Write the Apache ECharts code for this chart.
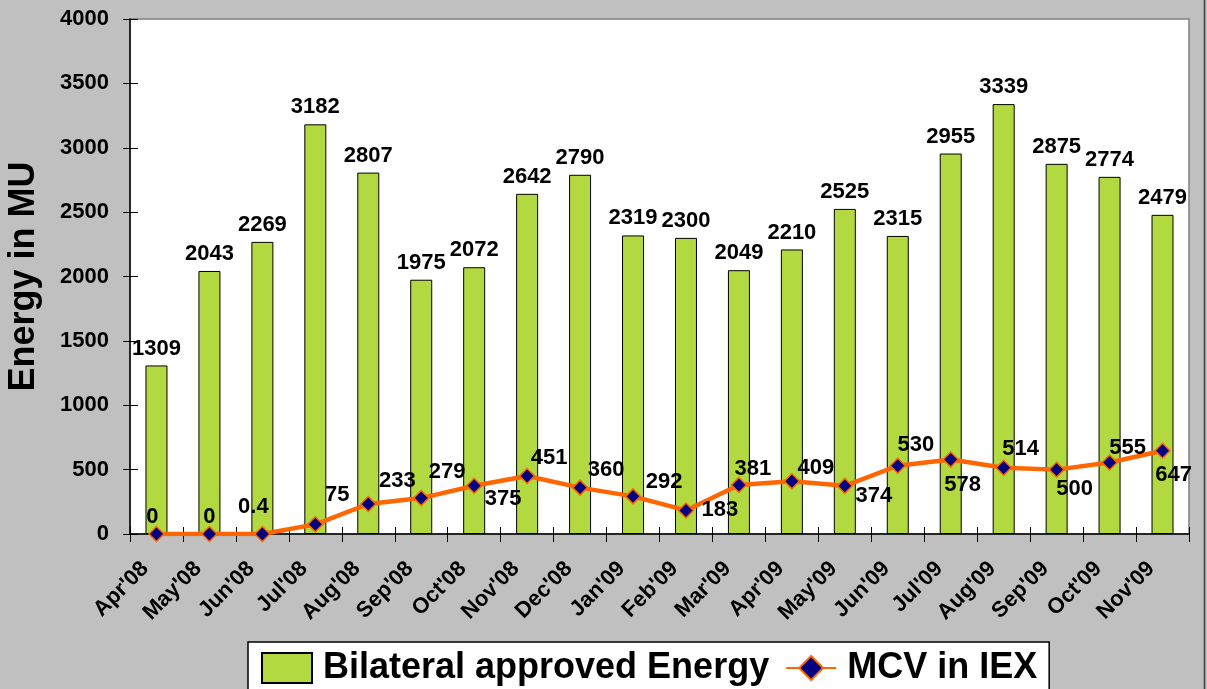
<!DOCTYPE html>
<html>
<head>
<meta charset="utf-8">
<script src="https://cdn.jsdelivr.net/npm/echarts@6/dist/echarts.min.js"></script>
<style>
html,body{margin:0;padding:0;background:#C0C0C0;}
#chart{width:1207px;height:689px;}
</style>
</head>
<body>
<div id="chart"></div>
<script>
const categories = ["Apr'08","May'08","Jun'08","Jul'08","Aug'08","Sep'08","Oct'08","Nov'08","Dec'08","Jan'09","Feb'09","Mar'09","Apr'09","May'09","Jun'09","Jul'09","Aug'09","Sep'09","Oct'09","Nov'09"];
const bilateralEnergy = [1309,2043,2269,3182,2807,1975,2072,2642,2790,2319,2300,2049,2210,2525,2315,2955,3339,2875,2774,2479];
const mcvIEX = [0,0,0.4,75,233,279,375,451,360,292,183,381,409,374,530,578,514,500,555,647];
const yMin = 0, yMax = 4000, yInterval = 500;

// label placement style (pixel offsets from each marker)
const mcvLabelOffsets = [[-4,-17],[0,-17],[-9,-27],[22,-29],[29,-23],[26,-26],[29,13],[22,-18],[26,-18],[31,-14],[34,-1],[14,-16],[24,-13],[29,10],[18,-21],[12,25],[17,-19],[18,19],[18,-15],[11,24]];

const FONT = '"Liberation Sans", Arial, sans-serif';
const chart = echarts.init(document.getElementById('chart'), null, {renderer:'canvas'});

const option = {
  backgroundColor: '#C0C0C0',
  animation: false,
  grid: {left:130, right:18, top:19, bottom:155, outerBoundsMode:'none', containLabel:false,
    show:true, backgroundColor:'#FFFFFF', borderColor:'#808080', borderWidth:1.5},
  legend: {
    left: 248, top: 642,
    backgroundColor:'#FFFFFF', borderColor:'#000000', borderWidth:1.5,
    padding:[8,12,20,13],
    itemWidth: 50, itemHeight: 30, itemGap: 16,
    textStyle:{fontFamily:FONT, fontWeight:'bold', fontSize:36, color:'#000', padding:[0,0,0,6]},
    data:[{name:'Bilateral approved Energy', icon:'rect'},{name:'MCV in IEX'}]
  },
  xAxis: [{
    type:'category', data: categories,
    axisLine:{show:true, lineStyle:{color:'#000', width:1.5}},
    axisTick:{show:true, alignWithLabel:false, length:8, lineStyle:{color:'#000', width:1}},
    axisLabel:{interval:0, rotate:45, margin:20, padding:[0,16,0,0], fontFamily:FONT, fontWeight:'bold', fontSize:22, color:'#000'},
    splitLine:{show:false}
  },{
    type:'category', data: categories, position:'bottom', offset:0,
    axisLine:{show:false},
    axisTick:{show:true, inside:true, length:7, lineStyle:{color:'#000', width:1}},
    axisLabel:{show:false}, splitLine:{show:false}
  }],
  yAxis: [{
    type:'value', min:yMin, max:yMax, interval:yInterval,
    name:'Energy in MU', nameLocation:'middle', nameGap:88, nameRotate:90,
    nameTextStyle:{fontFamily:FONT, fontWeight:'bold', fontSize:36, color:'#000'},
    axisLine:{show:true, lineStyle:{color:'#000', width:1.5}},
    axisTick:{show:true, length:7, lineStyle:{color:'#000', width:1}},
    axisLabel:{margin:21, fontFamily:FONT, fontWeight:'bold', fontSize:22, color:'#000', formatter: v => String(v)},
    splitLine:{show:false}
  },{
    type:'value', min:yMin, max:yMax, interval:yInterval, position:'left', offset:0,
    axisLine:{show:false},
    axisTick:{show:true, inside:true, length:8, lineStyle:{color:'#000', width:1}},
    axisLabel:{show:false}, splitLine:{show:false}
  }],
  series: [{
    name:'Bilateral approved Energy', type:'bar', data: bilateralEnergy,
    barWidth: 22,
    itemStyle:{color:'#B2D940', borderColor:'#000', borderWidth:1},
    label:{show:true, position:'top', distance:6, fontFamily:FONT, fontWeight:'bold', fontSize:22, color:'#000'},
    z:2
  },{
    name:'MCV in IEX', type:'line', data: mcvIEX.map((v,i)=>({
      value:v,
      label:{offset: mcvLabelOffsets[i]}
    })),
    symbol:'diamond', symbolSize:15,
    lineStyle:{color:'#FF6600', width:4.5},
    itemStyle:{color:'#000080', borderColor:'#FF6600', borderWidth:1.5},
    label:{show:true, position:'inside', fontFamily:FONT, fontWeight:'bold', fontSize:22, color:'#000',
      formatter: p => String(p.value)},
    z:3
  }],
  graphic: [{
    type:'line', shape:{x1:1204.5, y1:0, x2:1204.5, y2:689}, style:{stroke:'#404040', lineWidth:1.5}, z:10
  }]
};
chart.setOption(option);
</script>
</body>
</html>
